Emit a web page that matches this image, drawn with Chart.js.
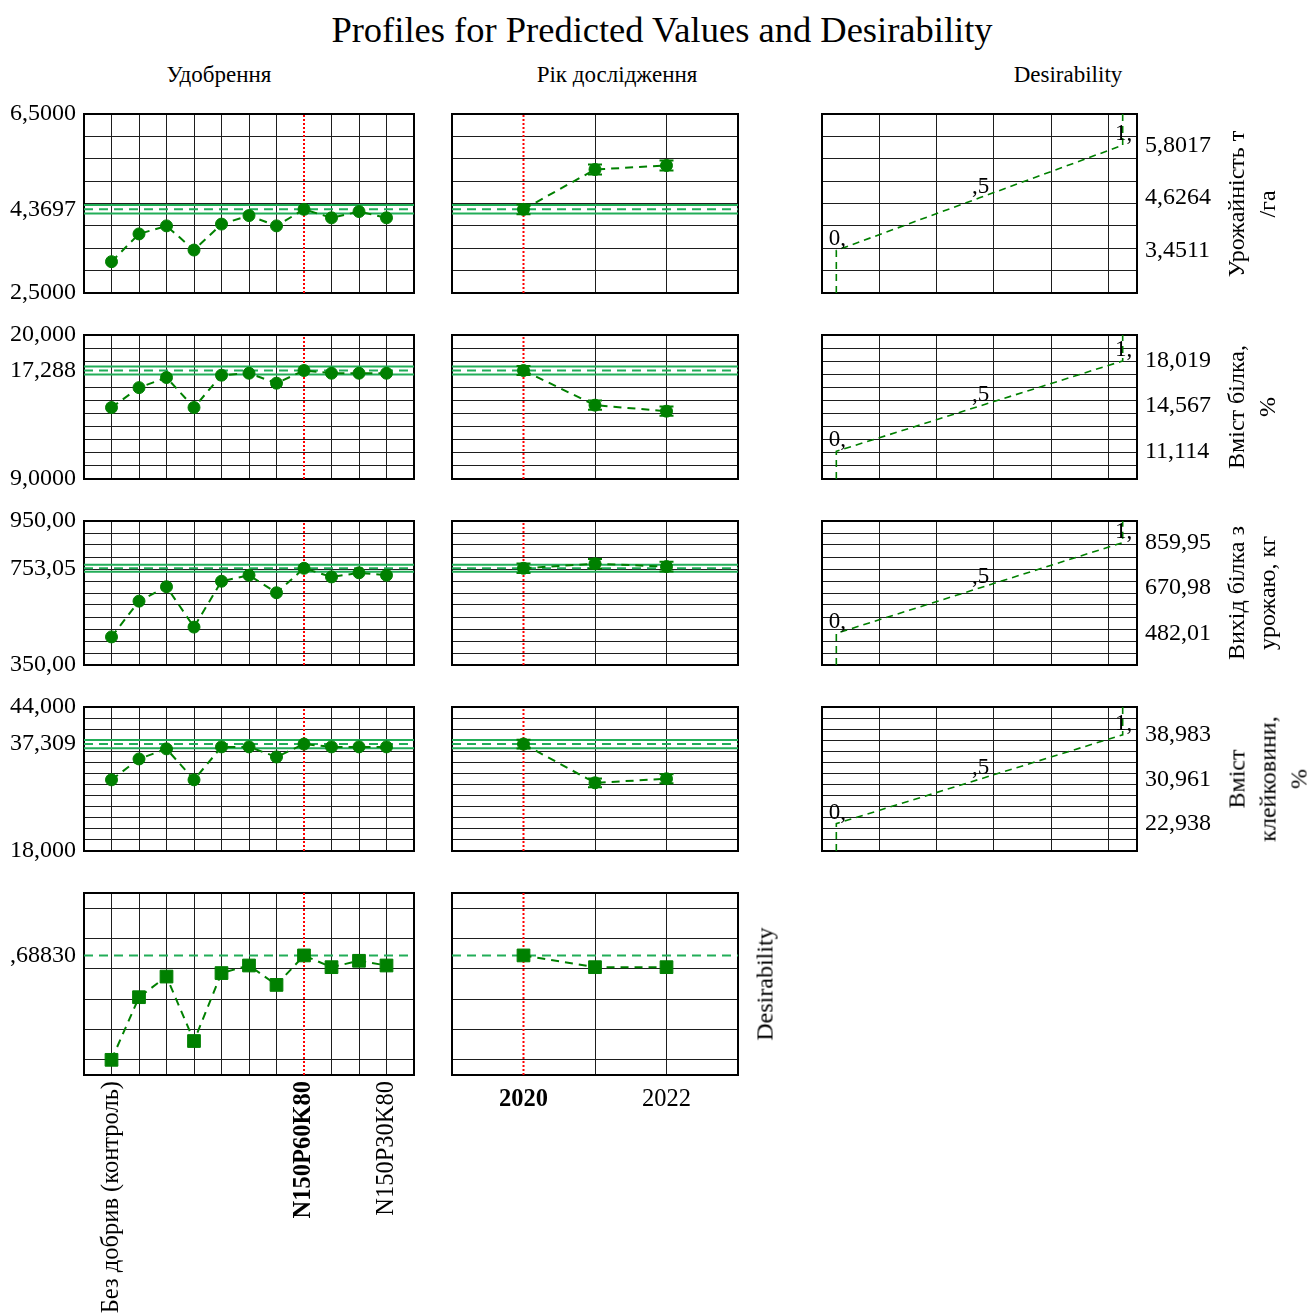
<!DOCTYPE html>
<html>
<head>
<meta charset="utf-8">
<title>Profiles for Predicted Values and Desirability</title>
<script src="https://cdn.jsdelivr.net/npm/chart.js@4.4.1/dist/chart.umd.min.js"></script>
<style>
  html, body { margin: 0; padding: 0; background: #fff; }
  #page { position: relative; width: 1309px; height: 1315px; overflow: hidden;
          font-family: 'Liberation Serif', 'Times New Roman', serif; color: #000; }
  .panel { position: absolute; }
  .txt { position: absolute; white-space: nowrap; line-height: 1; }
  .vt { position: absolute; white-space: nowrap; text-align: center; line-height: 31px;
        font-size: 24px; transform: translate(-50%, -50%) rotate(-90deg); }
</style>
</head>
<body>
<div id="page">
  <div class="txt" style="left:662px; top:12px; font-size:36.5px; transform:translateX(-50%);">Profiles for Predicted Values and Desirability</div>
  <div class="txt" style="left:219px; top:63px; font-size:23px; transform:translateX(-50%);">Удобрення</div>
  <div class="txt" style="left:617px; top:63px; font-size:23px; transform:translateX(-50%);">Рік дослідження</div>
  <div class="txt" style="left:1068px; top:63px; font-size:23px; transform:translateX(-50%);">Desirability</div>
</div>
<script>
// ---------- factor levels ----------
const fertLabels = ['Без добрив (контроль)', '', '', '', '', '', '', 'N150P60K80', '', '', 'N150P30K80'];
const yearLabels = ['2020', '', '2022'];
const fertCurrent = 7;   // current setting of Удобрення
const yearCurrent = 0;   // current setting of Рік дослідження

// ---------- response titles ----------
const responseTitles = [
  ['Урожайність т', '/га'],
  ['Вміст білка,', '%'],
  ['Вихід білка з', 'урожаю, кг'],
  ['Вміст', 'клейковини,', '%']
];

// ---------- predicted profiles ----------
const yieldByFert     = [3.20, 3.82, 4.00, 3.46, 4.04, 4.23, 4.00, 4.3697, 4.18, 4.32, 4.18];
const yieldByYear     = [4.3697, 5.26, 5.35];
const yieldYearErr    = [0.11, 0.11, 0.11];

const proteinByFert   = [14.46, 15.98, 16.75, 14.46, 16.93, 17.08, 16.32, 17.288, 17.08, 17.08, 17.08];
const proteinByYear   = [17.288, 14.64, 14.18];
const proteinYearErr  = [0.35, 0.35, 0.35];

const protYieldByFert = [467, 616, 676, 508, 699, 724, 651, 753.05, 717, 734, 724];
const protYieldByYear = [753.05, 772, 760];
const protYieldYearErr = [20, 20, 20];

const glutenByFert    = [30.85, 34.62, 36.44, 30.85, 36.80, 36.80, 34.98, 37.309, 36.80, 36.80, 36.80];
const glutenByYear    = [37.309, 30.31, 31.04];
const glutenYearErr   = [0.8, 0.8, 0.8];

const desirByFert     = [0.0, 0.413, 0.549, 0.124, 0.572, 0.622, 0.494, 0.6883, 0.611, 0.653, 0.622];
const desirByYear     = [0.6883, 0.611, 0.611];

const profilesByFert = [yieldByFert, proteinByFert, protYieldByFert, glutenByFert, desirByFert];
const profilesByYear = [yieldByYear, proteinByYear, protYieldByYear, glutenByYear, desirByYear];
const yearErrors     = [yieldYearErr, proteinYearErr, protYieldYearErr, glutenYearErr, null];

// ---------- axis ranges per response row ----------
const yMin      = [2.5, 9, 350, 18, -0.1];
const yMax      = [6.5, 20, 950, 44, 1.1];
const yGridFrom = [2.5, 9, 350, 18, 0];
const yGridTo   = [6.5, 20, 950, 44, 1];
const yGridStep = [0.5, 1, 50, 2, 0.2];
const currentValue = [4.3697, 17.288, 753.05, 37.309, 0.6883];
const confHalfWidth = [0.094, 0.3, 15, 0.75, null];

// ---------- desirability function settings ----------
const dLow  = [3.4511, 11.114, 482.01, 22.938];
const dMid  = [4.6264, 14.567, 670.98, 30.961];
const dHigh = [5.8017, 18.019, 859.95, 38.983];
const dLevels = [0, 0.5, 1];
const dLevelLabels = ['0,', ',5', '1,'];
const dAxisMin = -0.05, dAxisMax = 1.05, dGridStep = 0.2;

// ---------- styling / layout ----------
const FONT = "'Liberation Serif', 'Times New Roman', serif";
const GRID = '#1e1e1e';
const DARK = '#008000';
const REF  = '#22ad58';
const RED  = '#ff0000';
const COLS = [{ l: 84, r: 414 }, { l: 452, r: 738 }, { l: 822, r: 1137 }];
const ROWS = [{ t: 114, b: 293 }, { t: 335, b: 479 }, { t: 521, b: 665 }, { t: 707, b: 851 }, { t: 893, b: 1075 }];

Chart.defaults.font.family = FONT;
Chart.defaults.color = '#000';

const page = document.getElementById('page');

function steps(a, b, s) {
  const out = [];
  for (let i = 0; ; i++) {
    const v = +(a + i * s).toFixed(6);
    if (v > b + 1e-9) break;
    out.push(v);
  }
  return out;
}

// five significant digits, comma decimal separator, no leading zero
function fmt(v) {
  return v.toPrecision(5).replace('.', ',').replace(/^0,/, ',');
}

// grid ticks (drawn as grid lines) merged with label-only ticks
function buildTicks(gridVals, labelVals, skipGrid) {
  const ticks = gridVals.map(v => ({
    value: v,
    g: !(skipGrid !== undefined && Math.abs(v - skipGrid) < 1e-9),
    lab: false
  }));
  (labelVals || []).forEach(v => {
    const t = ticks.find(k => Math.abs(k.value - v) < 1e-9);
    if (t) t.lab = true; else ticks.push({ value: v, g: false, lab: true });
  });
  return ticks.sort((a, b) => a.value - b.value);
}

// ---------- plugins ----------
const framePlugin = {
  id: 'frame',
  beforeDatasetsDraw(chart) {
    const { ctx, chartArea: a } = chart;
    ctx.save();
    ctx.strokeStyle = '#000';
    ctx.lineWidth = 2;
    ctx.strokeRect(a.left, a.top, a.right - a.left, a.bottom - a.top);
    ctx.restore();
  }
};

const errorBarPlugin = {
  id: 'errorBars',
  afterDatasetsDraw(chart) {
    const { ctx } = chart;
    const xs = chart.scales.x, ys = chart.scales.y;
    chart.data.datasets.forEach(ds => {
      if (!ds.errors) return;
      ctx.save();
      ctx.strokeStyle = ds.borderColor;
      ctx.lineWidth = 2;
      ds.data.forEach((p, j) => {
        const e = ds.errors[j];
        const x = xs.getPixelForValue(p.x);
        const y1 = ys.getPixelForValue(p.y - e), y2 = ys.getPixelForValue(p.y + e);
        ctx.beginPath();
        ctx.moveTo(x, y1); ctx.lineTo(x, y2);
        ctx.moveTo(x - 7, y1); ctx.lineTo(x + 7, y1);
        ctx.moveTo(x - 7, y2); ctx.lineTo(x + 7, y2);
        ctx.stroke();
      });
      ctx.restore();
    });
  }
};

const levelLabelPlugin = {
  id: 'levelLabels',
  afterDatasetsDraw(chart, args, opts) {
    if (!opts || !opts.points) return;
    const { ctx } = chart;
    const xs = chart.scales.x, ys = chart.scales.y;
    ctx.save();
    ctx.fillStyle = '#000';
    ctx.font = '23px ' + FONT;
    ctx.textAlign = 'center';
    ctx.textBaseline = 'alphabetic';
    opts.points.forEach(p => {
      ctx.fillText(p.text, xs.getPixelForValue(p.x) + 1, ys.getPixelForValue(p.y) - 5);
    });
    ctx.restore();
  }
};

// ---------- panel factory ----------
function makePanel(row, col, cfg) {
  const C = COLS[col], R = ROWS[row];
  const padT = 16;
  const xAxisH = cfg.xAxisH || 0;
  const padB = xAxisH || 16;
  const side = xAxisH ? 12 : 8;           // panels with tick labels keep a wider side margin
  const yAxisW = col === 0 ? 84 : (col === 2 ? 92 : 0);
  const padL = col === 0 ? 84 : side;
  const padR = col === 2 ? 92 : side;
  const w = C.r - C.l + padL + padR;
  const h = R.b - R.t + padT + padB;

  const div = document.createElement('div');
  div.className = 'panel';
  div.style.left = (C.l - padL) + 'px';
  div.style.top = (R.t - padT) + 'px';
  div.style.width = w + 'px';
  div.style.height = h + 'px';
  const cv = document.createElement('canvas');
  cv.width = w; cv.height = h;
  cv.style.width = w + 'px'; cv.style.height = h + 'px';
  div.appendChild(cv);
  page.appendChild(div);

  const gridColor = c => (c.tick && c.tick.g) ? GRID : 'rgba(0,0,0,0)';

  new Chart(cv, {
    type: 'line',
    data: { datasets: cfg.datasets },
    plugins: [framePlugin, errorBarPlugin, levelLabelPlugin],
    options: {
      responsive: false,
      animation: false,
      events: [],
      layout: {
        padding: {
          left: col === 0 ? 0 : side,
          right: col === 2 ? 0 : side,
          top: padT,
          bottom: padB - xAxisH
        }
      },
      plugins: {
        legend: { display: false },
        tooltip: { enabled: false },
        levelLabels: { points: cfg.levelPoints || null }
      },
      scales: {
        x: {
          type: 'linear', position: 'bottom',
          min: cfg.xMin, max: cfg.xMax, bounds: 'data',
          grid: { color: gridColor, lineWidth: 1, drawTicks: false },
          border: { display: false },
          ticks: {
            display: !!cfg.xLabels,
            autoSkip: false,
            minRotation: cfg.xRotation || 0,
            maxRotation: cfg.xRotation || 0,
            padding: cfg.xPadding || 6,
            color: '#000',
            font: {
              family: FONT,
              size: 24.5,
              weight: c => (c.tick && c.tick.value === cfg.xBold) ? 'bold' : 'normal'
            },
            callback: v => (cfg.xLabels && cfg.xLabels[v] !== undefined) ? cfg.xLabels[v] : ''
          },
          afterBuildTicks: s => { s.ticks = buildTicks(cfg.xGrid, [], cfg.xCurrent); },
          afterFit: s => { s.height = xAxisH; s.paddingLeft = 0; s.paddingRight = 0; }
        },
        y: {
          type: 'linear', position: col === 2 ? 'right' : 'left',
          min: yMin[row], max: yMax[row], bounds: 'data',
          grid: { color: gridColor, lineWidth: 1, drawTicks: false },
          border: { display: false },
          ticks: {
            display: col !== 1,
            autoSkip: false,
            padding: 8,
            color: '#000',
            font: { family: FONT, size: 24 },
            callback: (v, i, t) => (t[i] && t[i].lab) ? fmt(v) : ''
          },
          afterBuildTicks: s => {
            s.ticks = buildTicks(steps(yGridFrom[row], yGridTo[row], yGridStep[row]), cfg.yLabelVals);
          },
          afterFit: s => { s.width = yAxisW; s.paddingTop = 0; s.paddingBottom = 0; }
        }
      }
    }
  });
}

function refLine(x0, x1, y, dashed, width) {
  return {
    data: [{ x: x0, y: y }, { x: x1, y: y }],
    borderColor: REF, borderWidth: width || 2, borderDash: dashed ? [9, 6] : [],
    pointRadius: 0, clip: false
  };
}

function profilePanel(row, col) {
  const isFert = col === 0;
  const values = isFert ? profilesByFert[row] : profilesByYear[row];
  const nLevels = values.length;
  const xMin = -1, xMax = nLevels;
  const curX = isFert ? fertCurrent : yearCurrent;
  const isDesir = row === 4;
  const datasets = [];

  datasets.push({
    data: values.map((v, i) => ({ x: i, y: v })),
    borderColor: DARK, backgroundColor: DARK,
    borderWidth: 2, borderDash: [8, 6],
    pointStyle: isDesir ? 'rect' : 'circle',
    pointRadius: isDesir ? 9 : 6,
    pointBorderWidth: 1,
    pointBackgroundColor: DARK, pointBorderColor: DARK,
    tension: 0, clip: false,
    errors: (!isFert && yearErrors[row]) ? yearErrors[row] : undefined
  });
  datasets.push({
    data: [{ x: curX, y: yMin[row] }, { x: curX, y: yMax[row] }],
    borderColor: RED, borderWidth: 2, borderDash: [2, 2],
    pointRadius: 0, clip: false
  });
  datasets.push(refLine(xMin, xMax, currentValue[row], true, 2));
  if (confHalfWidth[row] !== null) {
    datasets.push(refLine(xMin, xMax, currentValue[row] + confHalfWidth[row], false, 2));
    datasets.push(refLine(xMin, xMax, currentValue[row] - confHalfWidth[row], false, 2));
  }

  const cfg = {
    xMin: xMin, xMax: xMax,
    xGrid: steps(xMin, xMax, 1),
    xCurrent: curX,
    datasets: datasets,
    yLabelVals: col === 0 ? (isDesir ? [currentValue[row]] : [yMin[row], currentValue[row], yMax[row]]) : []
  };
  if (isDesir) {
    if (isFert) {
      cfg.xLabels = fertLabels; cfg.xBold = fertCurrent;
      cfg.xRotation = 90; cfg.xAxisH = 240; cfg.xPadding = 6;
    } else {
      cfg.xLabels = yearLabels; cfg.xBold = yearCurrent;
      cfg.xRotation = 0; cfg.xAxisH = 50; cfg.xPadding = 10;
    }
  }
  makePanel(row, col, cfg);
}

function desirabilityPanel(row) {
  const yVals = [dLow[row], dMid[row], dHigh[row]];
  const pts = [{ x: dLevels[0], y: yMin[row] }]
    .concat(dLevels.map((d, i) => ({ x: d, y: yVals[i] })))
    .concat([{ x: dLevels[dLevels.length - 1], y: yMax[row] }]);
  makePanel(row, 2, {
    xMin: dAxisMin, xMax: dAxisMax,
    xGrid: steps(dAxisMin, dAxisMax, dGridStep),
    datasets: [{
      data: pts, borderColor: DARK, borderWidth: 1.6, borderDash: [7, 5],
      pointRadius: 0, tension: 0, clip: false
    }],
    yLabelVals: yVals,
    levelPoints: dLevels.map((d, i) => ({ x: d, y: yVals[i], text: dLevelLabels[i] }))
  });
}

for (let r = 0; r < 5; r++) {
  profilePanel(r, 0);
  profilePanel(r, 1);
  if (r < 4) desirabilityPanel(r);
}

// ---------- rotated response titles ----------
function addVertical(lines, cx, cy) {
  const d = document.createElement('div');
  d.className = 'vt';
  d.style.left = cx + 'px';
  d.style.top = cy + 'px';
  d.innerHTML = lines.map(s => s.replace(/&/g, '&amp;').replace(/</g, '&lt;')).join('<br>');
  page.appendChild(d);
}
responseTitles.forEach((lines, r) => {
  const cy = (ROWS[r].t + ROWS[r].b) / 2;
  addVertical(lines, 1221 + lines.length * 31 / 2, cy);
});
addVertical(['Desirability'], 765, (ROWS[4].t + ROWS[4].b) / 2);
</script>
</body>
</html>
